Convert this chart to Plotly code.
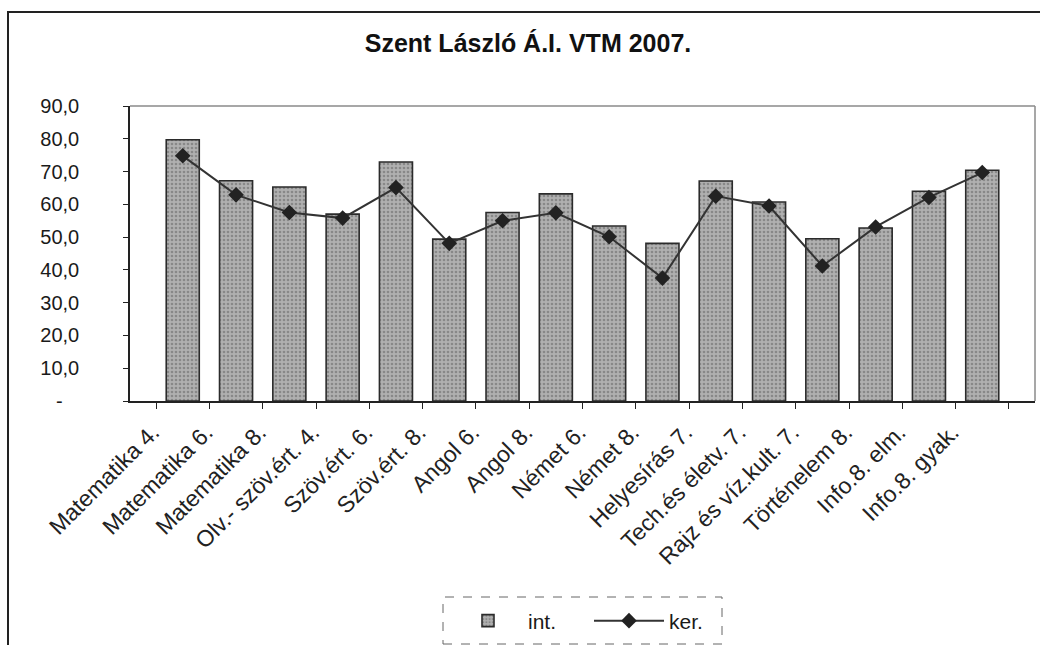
import plotly.graph_objects as go

# Subjects (categories) and the two series
subjects = [
    "Matematika 4.", "Matematika 6.", "Matematika 8.", "Olv.- szöv.ért. 4.",
    "Szöv.ért. 6.", "Szöv.ért. 8.", "Angol 6.", "Angol 8.", "Német 6.",
    "Német 8.", "Helyesírás 7.", "Tech.és életv. 7.", "Rajz és víz.kult. 7.",
    "Történelem 8.", "Info.8. elm.", "Info.8. gyak.",
]
int_values = [79.7, 67.2, 65.3, 57.0, 72.9, 49.4, 57.5, 63.2, 53.4,
              48.1, 67.1, 60.7, 49.5, 52.8, 64.0, 70.4]
ker_values = [74.8, 62.9, 57.5, 55.8, 65.1, 48.1, 55.0, 57.4, 50.1,
              37.5, 62.5, 59.5, 41.2, 53.1, 62.1, 69.7]

y_tickvals = [0, 10, 20, 30, 40, 50, 60, 70, 80, 90]
y_ticktext = ["-\u00a0\u00a0\u00a0", "10,0", "20,0", "30,0", "40,0",
              "50,0", "60,0", "70,0", "80,0", "90,0"]

FONT = "Liberation Sans, Arial, sans-serif"

# plot area in pixels: x 130..1035, y 106..401
PX_L, PX_W, PX_B, PX_H = 130, 905, 401, 295


def px_x(px):
    return (px - PX_L) / PX_W


def px_y(py):
    return (PX_B - py) / PX_H


fig = go.Figure()
fig.add_trace(go.Bar(
    x=subjects, y=int_values, name="int.",
    marker=dict(
        color="#ababab",
        line=dict(color="#2b2b2b", width=1.6),
        pattern=dict(shape=".", fgcolor="#5f5f5f", bgcolor="#b0b0b0",
                     size=4, solidity=0.35),
    ),
    width=0.62,
))
fig.add_trace(go.Scatter(
    x=subjects, y=ker_values, name="ker.", mode="lines+markers",
    line=dict(color="#333333", width=2),
    marker=dict(symbol="diamond", size=12, color="#222222"),
))

fig.update_layout(
    width=1040, height=645,
    margin=dict(l=130, r=5, t=106, b=244, autoexpand=False),
    paper_bgcolor="white", plot_bgcolor="white",
    font=dict(family=FONT, color="#1a1a1a", size=19),
    title=dict(text="<b>Szent László Á.I. VTM 2007.</b>",
               x=528 / 1040, xanchor="center", y=1 - 43 / 645,
               yanchor="middle", yref="container",
               font=dict(size=25, family=FONT, color="#111")),
    bargap=0.38,
    showlegend=True,
    legend=dict(orientation="h", x=px_x(448), y=px_y(621), xanchor="left",
                yanchor="middle", font=dict(size=21, family=FONT),
                bgcolor="rgba(0,0,0,0)", itemwidth=70, entrywidth=56),
    xaxis=dict(
        type="category", tickangle=-45, tickson="boundaries",
        ticks="outside", ticklen=6, tickcolor="#222",
        ticklabelstandoff=7, ticklabelshift=-30,
        showline=True, linecolor="#222", linewidth=1.5,
        showgrid=False, tickfont=dict(size=23, family=FONT, color="#222"),
        automargin=False,
    ),
    yaxis=dict(
        range=[0, 90], tickvals=y_tickvals, ticktext=y_ticktext,
        ticks="outside", ticklen=5, tickcolor="#222",
        ticklabelstandoff=40,
        showline=True, linecolor="#222", linewidth=1.5,
        showgrid=False, zeroline=False,
        tickfont=dict(size=20, family=FONT, color="#1a1a1a"),
        automargin=False,
    ),
    shapes=[
        # plot-area frame (top and right edges)
        dict(type="line", xref="paper", yref="paper", x0=0, x1=1, y0=1, y1=1,
             line=dict(color="#8a8a8a", width=1.5)),
        dict(type="line", xref="paper", yref="paper", x0=1, x1=1, y0=0, y1=1,
             line=dict(color="#8a8a8a", width=1.5)),
        # chart-area frame
        dict(type="rect", xref="paper", yref="paper",
             x0=px_x(8), x1=1.2, y0=-2, y1=px_y(12),
             line=dict(color="#222", width=2)),
        # dashed legend box
        dict(type="rect", xref="paper", yref="paper",
             x0=px_x(443), x1=px_x(722), y0=px_y(644), y1=px_y(597),
             line=dict(color="#666", width=1, dash="dash")),
    ],
)

fig.write_html("out.html")
